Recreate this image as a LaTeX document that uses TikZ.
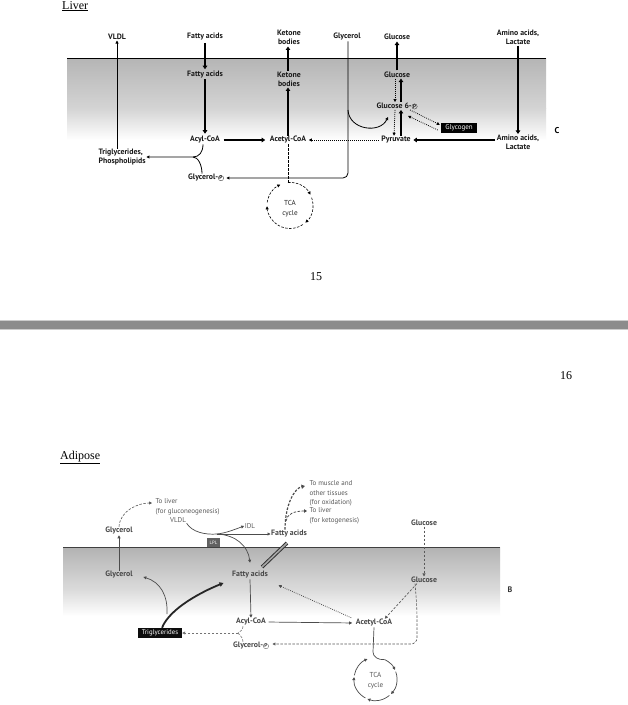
\documentclass[tikz,border=0pt]{standalone}
\usepackage{fontspec}
\setmainfont{Liberation Serif}
\setsansfont{PT Sans}
\usetikzlibrary{arrows.meta,calc}
\newcommand{\phos}{\tikz[baseline=(pp.base)]\node[circle,draw,line width=0.3pt,inner sep=0.2pt,font=\sffamily\fontsize{5.2}{5.5}\selectfont](pp){P};}
\begin{document}
\begin{tikzpicture}[x=1pt,y=1pt,
  lbl/.style={font=\sffamily\bfseries\fontsize{7.8}{9}\selectfont,inner sep=0.5pt,align=center,text=black!90},
  alb/.style={lbl,text=black!72},
  note/.style={font=\sffamily\fontsize{7}{9.5}\selectfont,inner sep=0.5pt,align=left,text=black!65},
  blk/.style={fill=black,text=white,font=\sffamily\fontsize{7}{8}\selectfont,inner sep=0pt,minimum height=10},
  tip/.style={-{Triangle[length=3pt,width=3pt]}},
  bigtip/.style={-{Triangle[length=3.5pt,width=4.5pt]}},
  thk/.style={line width=1.7pt,bigtip},
  thn/.style={line width=0.7pt,tip},
  dotl/.style={line width=0.8pt,dash pattern=on 0.8pt off 1.2pt,tip},
  dshl/.style={line width=0.6pt,dash pattern=on 2.5pt off 1.5pt,tip},
  ttl/.style={font=\fontsize{12}{14}\selectfont,inner sep=0pt},
  cyc/.style={circle,minimum size=#1,inner sep=0pt,outer sep=0pt},
]
\useasboundingbox (0,0) rectangle (628,-705);
\fill[white] (0,0) rectangle (628,-705);

% ================= LIVER =================
\node[ttl,anchor=base west] (liver) at (62,-9) {\underline{Liver}};
\shade[top color=black!29,bottom color=black!17] (67,-58) rectangle (546,-108);
\shade[top color=black!17,bottom color=white] (67,-108) rectangle (546,-140);
\draw[line width=0.9pt] (67,-58) -- (546,-58);

\node[lbl] (vldlo) at (117,-37) {VLDL};
\node[lbl] (fao) at (205,-37) {Fatty acids};
\node[lbl] (kbo) at (289,-37.5) {Ketone\\bodies};
\node[lbl] (glyo) at (347,-37) {Glycerol};
\node[lbl] (glco) at (397,-37) {Glucose};
\node[lbl] (aao) at (518,-37.5) {Amino acids,\\Lactate};
\node[lbl] (fai) at (205,-75) {Fatty acids};
\node[lbl] (kbi) at (289,-79.5) {Ketone\\bodies};
\node[lbl] (glci) at (397,-75) {Glucose};
\node[lbl] (g6p) at (397,-106) {Glucose 6-\phos};
\node[lbl] (pyr) at (396,-140) {Pyruvate};
\node[blk,minimum width=36] (glycogen) at (459,-128) {Glycogen};
\node[lbl] (aai) at (518,-142) {Amino acids,\\Lactate};
\node[lbl] (acyl) at (205,-140) {Acyl-CoA};
\node[lbl] (acetyl) at (288,-140) {Acetyl-CoA};
\node[lbl,align=left,anchor=west] (tg) at (98,-157.5) {Triglycerides,\\Phospholipids};
\node[lbl] (glyp) at (206,-178) {Glycerol-\phos};
\node[cyc=46] (tca) at (290,-205.5) {};
\node[note,font=\sffamily\fontsize{7.2}{10.5}\selectfont,text=black!85,align=center] (tcat) at (290,-208.5) {TCA\\cycle};
\node[font=\sffamily\bfseries\fontsize{8.5}{9}\selectfont] (lc) at (557,-131) {C};

\draw[thn,line width=0.8pt] (tg.north -| vldlo) -- (vldlo.south);
\draw[thk,shorten <=1.5pt,shorten >=1.5pt] (fao.south) -- (fai.north);
\draw[thk,shorten >=2pt] (fai.south) -- (acyl.north);
\draw[thk] (acetyl.north) -- (acetyl.north |- kbi.south);
\draw[thk,shorten <=1pt,shorten >=1pt] ([xshift=-1pt]kbi.north) -- ([xshift=-1pt]kbo.south);
\draw[thk,shorten <=1pt,shorten >=1pt] (glci.north) -- (glco.south);
\draw[dotl] ([xshift=-2pt]glci.south) -- ([xshift=-2pt]g6p.north);
\draw[thk,line width=1.4pt] ([xshift=4pt]g6p.north) -- ([xshift=4pt]glci.south);
\draw[dotl] ([xshift=-2pt]g6p.south) -- ([xshift=-2pt]pyr.north);
\draw[thk,line width=1.4pt] ([xshift=5pt]pyr.north) -- ([xshift=4pt]g6p.south);
\draw[dotl] ($(g6p.south east)+(-8,0)$) -- ($(glycogen.north west)+(-1,-2)$);
\draw[dotl] ($(glycogen.west)+(-3,-2)$) -- ($(g6p.south east)+(-10,-6)$);
\draw[thn,line width=0.8pt,rounded corners=5] ([xshift=1pt]glyo.south) -- ([xshift=1pt]glyo.south |- glyp) -- ([xshift=2pt]glyp.east);
\coordinate (gbr) at (348,-110);
\draw[thn,line width=0.8pt] (gbr) .. controls (349,-130) and (380,-134) .. (388,-117);
\draw[thk] (aao.south) -- (aai.north);
\draw[thk,shorten <=1pt,shorten >=2pt] (aai.west |- pyr) -- (pyr.east);
\draw[thk,shorten <=3pt,shorten >=4pt] (acyl.east) -- (acetyl.west);
\draw[dotl,shorten <=2pt,shorten >=2pt] (pyr.west) -- (acetyl.east);
\coordinate (jn) at (193,-157);
\draw[thn,line width=0.8pt] ([xshift=-2pt]acyl.south) .. controls +(0,-8) and +(6,0) .. (jn) -- (tg.east |- jn);
\draw[line width=0.8pt] ([xshift=-4pt]glyp.north) .. controls +(0,9) and +(5,0) .. (jn);
\draw[dshl,-] (acetyl.south) -- (acetyl.south |- tca.north);
\draw[dshl] (acetyl.south |- tca.north) arc[start angle=95,end angle=28,radius=23];
\draw[dshl] (tca.20) arc[start angle=20,end angle=-48,radius=23];
\draw[dshl] (tca.-56) arc[start angle=-56,end angle=-178,radius=23];
\draw[dshl] (tca.172) arc[start angle=172,end angle=115,radius=23];

\node[ttl] (p15) at (316,-277) {15};

% separator
\fill[black!20] (0,-320) rectangle (628,-330);
\fill[black!45] (0,-321) rectangle (628,-329);
\node[ttl] (p16) at (566,-376) {16};

% ================= ADIPOSE =================
\node[ttl,anchor=base west] (adip) at (60,-459) {\underline{Adipose}};
\shade[top color=black!30,bottom color=black!14] (63,-547) rectangle (500,-590);
\shade[top color=black!14,bottom color=white] (63,-590) rectangle (500,-616);
\draw[line width=1pt,black!75] (63,-547) -- (500,-547);

\node[alb] (glyoa) at (119,-531) {Glycerol};
\node[alb] (glyia) at (119,-575) {Glycerol};
\node[note,anchor=west] (toliv1) at (155,-507) {To liver\\(for gluconeogenesis)};
\node[note] (vldla) at (178,-520) {VLDL};
\node[note] (idl) at (250,-526) {IDL};
\node[alb] (faoa) at (289,-534) {Fatty acids};
\node[fill=black!62,text=white,font=\sffamily\fontsize{4.8}{5}\selectfont,minimum width=13,minimum height=9,inner sep=0pt] (lpl) at (213.5,-542.5) {LPL};
\node[alb] (faia) at (250,-575) {Fatty acids};
\node[note,anchor=west] (tomus) at (309,-493.5) {To muscle and\\other tissues\\(for oxidation)};
\node[note,anchor=west] (toliv2) at (309,-516) {To liver\\(for ketogenesis)};
\node[alb] (glcoa) at (424,-523) {Glucose};
\node[alb] (glcia) at (424,-580) {Glucose};
\node[font=\sffamily\bfseries\fontsize{8}{9}\selectfont,text=black!80] (lb) at (510,-590) {B};
\node[alb] (acyla) at (251,-622) {Acyl-CoA};
\node[alb] (acetyla) at (374,-623) {Acetyl-CoA};
\node[alb] (glypa) at (251,-646) {Glycerol-\phos};
\node[blk,minimum width=44,fill=black!95,font=\sffamily\fontsize{6.8}{8}\selectfont] (tga) at (160,-633) {Triglycerides};
\node[cyc=43] (tcaa) at (375.5,-679) {};
\node[note,align=center,font=\sffamily\fontsize{7.2}{10}\selectfont] (tcaat) at (375.5,-681) {TCA\\cycle};

\begin{scope}[black!70]
\draw[thn,line width=0.6pt] (glyia.north) -- (glyoa.south);
\draw[dshl,black!65] (glyoa.north) .. controls +(1,16) and +(-14,0) .. ($(toliv1.west)+(-3,4)$);
\coordinate (lpj) at (217,-534);
\draw[line width=0.7pt] (vldla.south east) .. controls (192,-532) and (205,-535) .. (lpj);
\draw[thn] (lpj) .. controls (226,-533) and (233,-530) .. (idl.west);
\draw[thn] (lpj) -- (faoa.west);
\draw[thn] (lpj) .. controls (236,-535) and (248,-546) .. ($(faia.north)+(0,8)$);
\draw[double=black!35,double distance=1.6pt,line width=1pt,black!80] (262,-567) -- (287,-543);
\draw[line width=1.2pt,dash pattern=on 2.5pt off 1.5pt,-{Triangle[length=3.5pt,width=4pt]}] ($(faoa.north)+(-4,0)$) .. controls +(0,26) and +(-10,-2) .. ($(tomus.west)+(-4,7.5)$);
\draw[line width=0.8pt,dash pattern=on 2.5pt off 1.5pt,-{Triangle[length=3pt,width=3.5pt]}] (286,-521) .. controls (287,-514) and (294,-511) .. ($(toliv2.west)+(-2,5)$);
\draw[dshl,black!65] (glcoa.south) -- (glcia.north);
\draw[thn] (faia.south) -- (acyla.north);
\draw[thn,shorten <=2pt,shorten >=3pt] (acyla.east) -- (acetyla.west);
\draw[dotl] ($(acetyla.north west)+(-4,1)$) -- ($(faia.south east)+(10,-6)$);
\draw[dshl,black!65] ($(glcia.south)+(-7,0)$) -- ($(acetyla.north east)+(-8,0)$);
\draw[dshl,black!65,rounded corners=6] ($(glcia.south)+(-9,0)$) to[out=-85,in=90] (417,-625) -- (417,-644) -- ($(glypa.east)+(3,2)$);
\coordinate (yj) at (238,-633);
\draw[line width=0.6pt,dash pattern=on 2.5pt off 1.5pt,black!55] ($(acyla.south)+(-8,0)$) .. controls +(0,-3) .. (yj);
\draw[line width=0.6pt,dash pattern=on 2.5pt off 1.5pt,black!55] ($(glypa.north)+(-8,0)$) .. controls +(0,3) .. (yj);
\draw[dshl,black!55] (yj) -- (tga.east);
\draw[line width=1.8pt,black!85,-{Triangle[length=4pt,width=4.5pt]}] ($(tga.north)+(2,0)$) .. controls +(8,20) and +(-20,-8) .. ($(faia.west)+(-8,-8)$);
\draw[thn] (167,-614) .. controls (168,-595) and (160,-582) .. ($(glyia.east)+(10,-2)$);
\draw[line width=0.7pt,-{Triangle[length=3pt,width=3pt]}] (acetyla.south) -- (373,-652) .. controls (373,-657) and (378,-660) .. (tcaa.64) arc[start angle=64,end angle=25,radius=21.5];
\draw[thn] (tcaa.20) arc[start angle=20,end angle=-44,radius=21.5];
\draw[thn] (tcaa.-50) arc[start angle=-50,end angle=-112,radius=21.5];
\draw[thn] (tcaa.-118) arc[start angle=-118,end angle=-185,radius=21.5];
\draw[thn] (tcaa.170) arc[start angle=170,end angle=112,radius=21.5];
\end{scope}
\end{tikzpicture}
\end{document}
